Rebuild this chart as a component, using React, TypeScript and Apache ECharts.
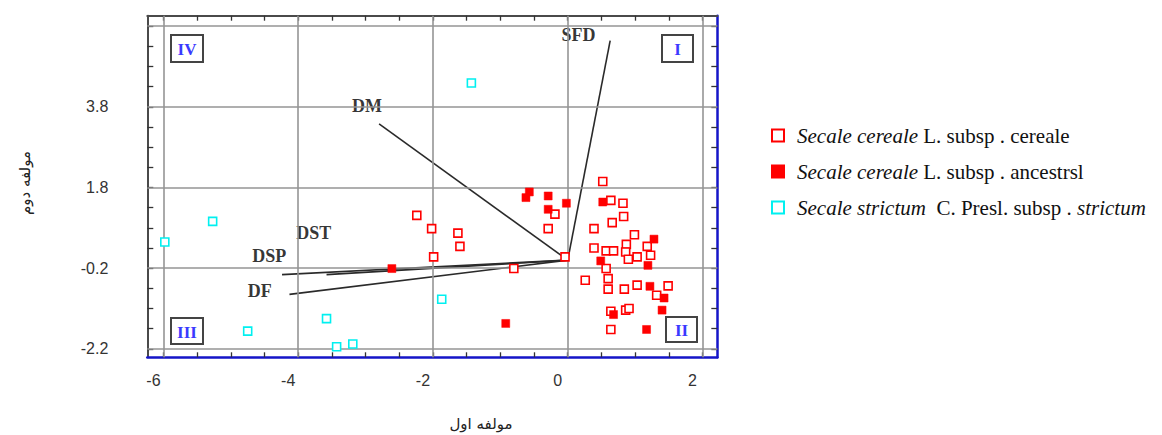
import React, { useEffect, useRef } from 'react';
import * as echarts from 'echarts';

const xTicks = [-6, -5.5, -5, -4.5, -4, -3.5, -3, -2.5, -2, -1.5, -1, -0.5, 0, 0.5, 1, 1.5, 2];
const xTickLabels = [-6, -4, -2, 0, 2];
const yTicks = [-2.2, -1.7, -1.2, -0.7, -0.2, 0.3, 0.8, 1.3, 1.8, 2.3, 2.8, 3.3, 3.8, 4.3, 4.8, 5.3, 5.8];
const yTickLabels = [-2.2, -0.2, 1.8, 3.8];
const xGridValues = [-6, -4, -2, 0, 2];
const yGridValues = [-2.2, -0.2, 1.8, 3.8, 5.8];

const seriesNames = [
  'Secale cereale L. subsp. cereale',
  'Secale cereale L. subsp. ancestrsl',
  'Secale strictum C. Presl. subsp. strictum',
];

const cerealePoints = [
  [0.52, 1.95], [0.64, 1.48], [0.82, 1.41], [-0.19, 1.14], [0.83, 1.08], [0.66, 0.93],
  [-0.29, 0.78], [0.39, 0.78], [-1.63, 0.67], [-2.02, 0.78], [0.99, 0.63], [-1.6, 0.34],
  [0.39, 0.3], [0.57, 0.23], [0.68, 0.23], [0.87, 0.39], [0.86, 0.2], [1.18, 0.34],
  [1.23, 0.12], [1.03, 0.08], [0.9, 0.02], [-0.04, 0.08], [0.57, -0.21], [-0.8, -0.21],
  [0.26, -0.5], [0.6, -0.46], [0.6, -0.72], [0.84, -0.72], [1.03, -0.62], [1.49, -0.64],
  [1.32, -0.87], [0.64, -1.27], [0.86, -1.24], [0.91, -1.2], [0.64, -1.72], [-2.24, 1.11],
  [-1.99, 0.08],
];
const ancestralPoints = [
  [-0.57, 1.69], [-0.62, 1.55], [-0.29, 1.59], [-0.02, 1.41], [-0.29, 1.26], [0.52, 1.44],
  [1.28, 0.52], [0.49, -0.02], [1.19, -0.13], [1.22, -0.65], [1.43, -0.94], [1.4, -1.24],
  [0.68, -1.35], [1.17, -1.72], [-0.92, -1.57], [-2.61, -0.21],
];
const strictumPoints = [
  [-1.43, 4.39], [-5.27, 0.96], [-5.98, 0.45], [-4.75, -1.76], [-3.58, -1.45],
  [-3.43, -2.15], [-3.19, -2.08], [-1.87, -0.97],
];

const vectorNames = ['SFD', 'DM', 'DST', 'DSP', 'DF'];
const vectorEnds = [[0.63, 5.44], [-2.8, 3.38], [-3.58, -0.36], [-4.24, -0.36], [-4.13, -0.85]];
const vectorLabelPos = [[0.16, 5.57], [-2.98, 3.82], [-3.77, 0.66], [-4.43, 0.1], [-4.57, -0.77]];

const quadrantNames = ['IV', 'I', 'III', 'II'];

const RED = '#ff0000';
const CYAN = '#00f0f0';
const BLUE = '#1515c8';
const FRAME = '#4a4a4a';

function quadBox(label: string, x: number, y: number, w: number, h: number) {
  return {
    type: 'group',
    x,
    y,
    children: [
      { type: 'rect', shape: { x: 0, y: 0, width: w, height: h }, style: { fill: '#fff', stroke: '#444', lineWidth: 2 } },
      {
        type: 'text',
        x: w / 2,
        y: h / 2 + 1,
        style: {
          text: label,
          fill: '#3a3aff',
          font: 'bold 17px "Liberation Serif"',
          align: 'center',
          verticalAlign: 'middle',
        },
      },
    ],
  };
}

export default function App() {
  const ref = useRef<HTMLDivElement>(null);
  useEffect(() => {
    if (!ref.current) return;
    const chart = echarts.init(ref.current, null, { renderer: 'svg' });
    const xMin = -6.24, xMax = 2.22, yMin = -2.41, yMax = 6.06;
    const tickStyle = { color: '#333', width: 1.3 };
    const labelFont = { fontFamily: 'Liberation Sans', fontSize: 16, color: '#333' };

    const vectorSeries = vectorEnds.map((end, i) => ({
      type: 'line',
      name: vectorNames[i],
      data: [[0, 0], end],
      symbol: 'none',
      silent: true,
      z: 3,
      lineStyle: { color: '#2a2a2a', width: 1.6 },
      legendHoverLink: false,
    }));

    const legendFont = { fontFamily: 'Liberation Serif', fontSize: 21, color: '#111', lineHeight: 21 };

    const option: any = {
      animation: false,
      grid: { left: 147.3, right: 444.7, top: 15.7, bottom: 77.7, containLabel: false },
      xAxis: [
        {
          type: 'value', position: 'bottom', min: xMin, max: xMax,
          axisLine: { show: true, onZero: false, lineStyle: { color: BLUE, width: 2.5 } },
          axisTick: { show: true, inside: true, length: 5, customValues: xTicks, lineStyle: tickStyle },
          axisLabel: { show: true, customValues: xTickLabels, margin: 15, padding: [0, 20, 0, 0], ...labelFont },
          splitLine: { show: false },
        },
        {
          type: 'value', position: 'top', min: xMin, max: xMax,
          axisLine: { show: true, onZero: false, lineStyle: { color: FRAME, width: 2 } },
          axisTick: { show: true, inside: true, length: 5, customValues: xTicks, lineStyle: tickStyle },
          axisLabel: { show: false },
          splitLine: { show: false },
        },
      ],
      yAxis: [
        {
          type: 'value', position: 'left', min: yMin, max: yMax,
          axisLine: { show: true, onZero: false, lineStyle: { color: FRAME, width: 2 } },
          axisTick: { show: true, inside: true, length: 6, customValues: yTicks, lineStyle: tickStyle },
          axisLabel: { show: true, customValues: yTickLabels, margin: 39, padding: [0, 0, 6, 0], ...labelFont },
          splitLine: { show: false },
        },
        {
          type: 'value', position: 'right', min: yMin, max: yMax,
          axisLine: { show: true, onZero: false, lineStyle: { color: BLUE, width: 2.5 } },
          axisTick: { show: true, inside: true, length: 6, customValues: yTicks, lineStyle: tickStyle },
          axisLabel: { show: false },
          splitLine: { show: false },
        },
      ],
      legend: {
        show: true,
        orient: 'vertical',
        left: 771,
        top: 125,
        padding: 0,
        itemWidth: 12,
        itemHeight: 12,
        itemGap: 15,
        selectedMode: false,
        data: seriesNames,
        formatter: (name: string) => {
          if (name === seriesNames[0]) return '{s|}{i|Secale cereale}{n| L. subsp . cereale}';
          if (name === seriesNames[1]) return '{s|}{i|Secale cereale}{n| L. subsp . ancestrsl}';
          return '{s|}{i|Secale strictum}{n|  C. Presl. subsp . }{i|strictum}';
        },
        textStyle: {
          ...legendFont,
          rich: {
            s: { width: 8 },
            i: { ...legendFont, fontStyle: 'italic' },
            n: { ...legendFont },
          },
        },
      },
      graphic: [
        quadBox(quadrantNames[0], 171, 35, 32, 27),
        quadBox(quadrantNames[1], 662, 35, 31, 27),
        quadBox(quadrantNames[2], 171, 318, 32, 26),
        quadBox(quadrantNames[3], 666, 317, 31, 25),
        {
          type: 'text', x: 481, y: 424,
          style: { text: 'مولفه اول', font: '15px "DejaVu Sans"', fill: '#222', align: 'center', verticalAlign: 'middle' },
        },
        {
          type: 'text', x: 24.5, y: 183, rotation: Math.PI / 2,
          style: { text: 'مولفه دوم', font: '15px "DejaVu Sans"', fill: '#222', align: 'center', verticalAlign: 'middle' },
        },
      ],
      series: [
        {
          type: 'scatter',
          name: 'grid',
          data: [],
          silent: true,
          z: 1,
          markLine: {
            silent: true,
            symbol: 'none',
            label: { show: false },
            lineStyle: { color: '#959595', width: 1.6, type: 'solid' },
            data: [
              ...xGridValues.map((v) => ({ xAxis: v })),
              ...yGridValues.map((v) => ({ yAxis: v })),
            ],
          },
        },
        ...vectorSeries,
        {
          type: 'scatter',
          name: 'vectorLabels',
          data: vectorLabelPos.map((p, i) => ({ value: p, name: vectorNames[i] })),
          symbolSize: 0,
          silent: true,
          z: 4,
          label: {
            show: true,
            position: 'inside',
            formatter: (p: any) => p.name,
            fontFamily: 'Liberation Serif',
            fontWeight: 'bold',
            fontSize: 18,
            color: '#000',
          },
        },
        {
          type: 'scatter',
          name: seriesNames[0],
          data: cerealePoints,
          symbol: 'rect',
          symbolSize: 8,
          z: 5,
          itemStyle: { color: '#ffffff', borderColor: RED, borderWidth: 1.6, opacity: 1 },
        },
        {
          type: 'scatter',
          name: seriesNames[1],
          data: ancestralPoints,
          symbol: 'rect',
          symbolSize: 8,
          z: 6,
          itemStyle: { color: RED, borderColor: RED, borderWidth: 0.5, opacity: 1 },
        },
        {
          type: 'scatter',
          name: seriesNames[2],
          data: strictumPoints,
          symbol: 'rect',
          symbolSize: 8,
          z: 5,
          itemStyle: { color: '#ffffff', borderColor: CYAN, borderWidth: 1.6, opacity: 1 },
        },
      ],
    };
    chart.setOption(option);
    return () => chart.dispose();
  }, []);
  return (
    <div
      ref={ref}
      style={{ position: 'fixed', left: 0, top: 0, width: 1162, height: 435, background: '#fff' }}
    />
  );
}
